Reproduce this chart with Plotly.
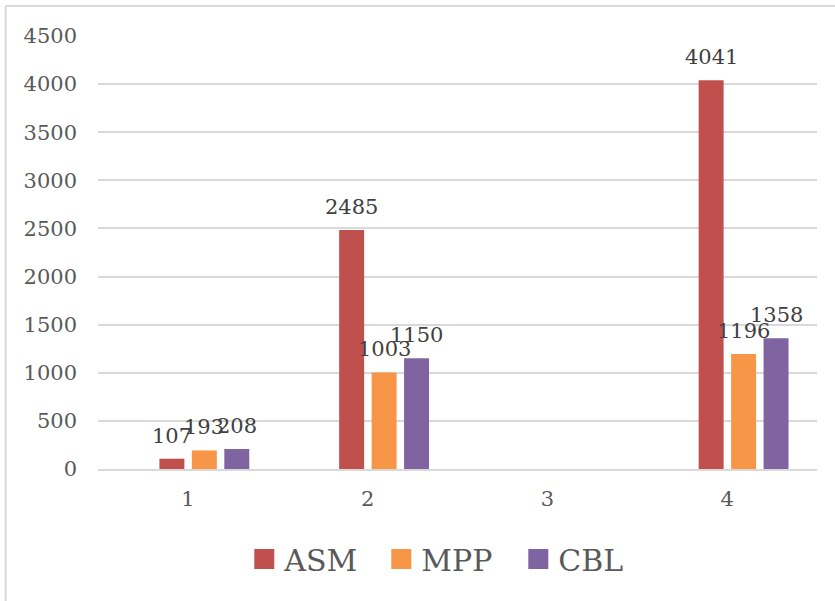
import plotly.graph_objects as go

categories = ["1", "2", "3", "4"]
series_names = ["ASM", "MPP", "CBL"]
asm_values = [107, 2485, None, 4041]
mpp_values = [193, 1003, None, 1196]
cbl_values = [208, 1150, None, 1358]
y_ticks = [0, 500, 1000, 1500, 2000, 2500, 3000, 3500, 4000, 4500]

series_values = [asm_values, mpp_values, cbl_values]
colors = ["#C0504D", "#F79646", "#8064A2"]

FONT = "DejaVu Serif"
W, H = 835, 601
ML, MR, MT, MB = 97.5, 17.5, 36, 132
plot_w = W - ML - MR
cat_px = plot_w / len(categories)
bar_w = 25 / cat_px
step = 32.5 / cat_px
first_left = -28.5 / cat_px

fig = go.Figure()
annotations = []
for k, (name, vals, col) in enumerate(zip(series_names, series_values, colors)):
    off = first_left + k * step
    fig.add_trace(go.Bar(
        x=categories, y=vals, name=name, width=bar_w, offset=off,
        marker=dict(color=col, line=dict(width=0)), showlegend=False,
    ))
    # legend proxy
    fig.add_trace(go.Scatter(
        x=[None], y=[None], mode="markers", name=name,
        marker=dict(symbol="square", size=16, color=col, line=dict(color=col, width=4)),
        showlegend=True,
    ))
    for i, v in enumerate(vals):
        if v is None:
            continue
        annotations.append(dict(
            x=i + off + bar_w / 2, y=v, xref="x", yref="y", text=str(v),
            showarrow=False, yanchor="bottom", xanchor="center", yshift=9,
            font=dict(family=FONT, size=21, color="#404040"),
        ))

plot_h = H - MT - MB
shapes = [
    dict(type="line", xref="paper", yref="paper",
         x0=(5 - ML) / plot_w, x1=(W + 5 - ML) / plot_w,
         y0=(H - MB - 6) / plot_h, y1=(H - MB - 6) / plot_h,
         line=dict(color="#d9d9d9", width=2)),
    dict(type="line", xref="paper", yref="paper",
         x0=(5 - ML) / plot_w, x1=(5 - ML) / plot_w,
         y0=(H - MB - 6) / plot_h, y1=-(MB + 10) / plot_h,
         line=dict(color="#d9d9d9", width=2)),
]

fig.update_layout(
    width=W, height=H,
    margin=dict(l=ML, r=MR, t=MT, b=MB, pad=0),
    paper_bgcolor="white", plot_bgcolor="white",
    barmode="overlay",
    font=dict(family=FONT, size=21, color="#595959"),
    xaxis=dict(type="category", categoryorder="array", categoryarray=categories,
               range=[-0.5, len(categories) - 0.5], showgrid=False,
               showline=True, linecolor="#d9d9d9", linewidth=1.5,
               ticks="", ticklabelstandoff=10, zeroline=False,
               tickfont=dict(family=FONT, size=21, color="#595959")),
    yaxis=dict(range=[0, 4500], tickvals=y_ticks, showgrid=True,
               gridcolor="#d9d9d9", gridwidth=1.5, zeroline=False,
               showline=False, ticks="", ticklabelstandoff=20,
               tickfont=dict(family=FONT, size=21, color="#595959")),
    legend=dict(orientation="h", x=(244 - ML) / plot_w, xanchor="left",
                y=-(559 - (H - MB)) / plot_h, yanchor="middle",
                font=dict(family=FONT, size=30, color="#595959"),
                itemsizing="trace", entrywidth=92, bgcolor="rgba(0,0,0,0)"),
    annotations=annotations,
    shapes=shapes,
)

fig.write_html(
    "out.html",
    config={"displayModeBar": False},
    post_script="document.body.style.margin='0';document.body.style.overflow='hidden';",
)
